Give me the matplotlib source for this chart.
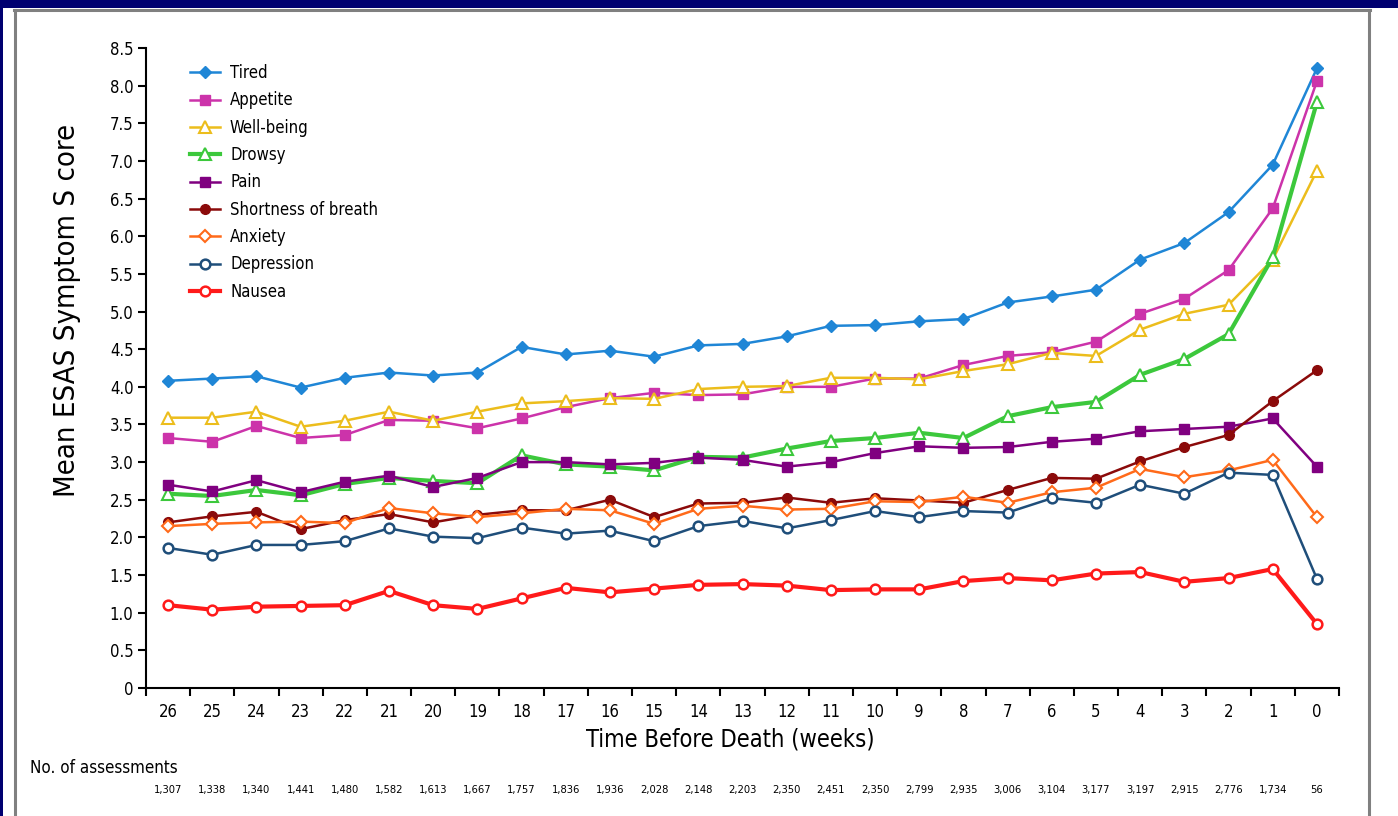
import matplotlib
matplotlib.use("Agg")
import matplotlib.pyplot as plt
from matplotlib.patches import Rectangle
from matplotlib.lines import Line2D
from matplotlib.ticker import FixedLocator, NullFormatter

plt.rcParams['font.family'] = ['DejaVu Sans']
plt.rcParams['font.stretch'] = 'condensed'

weeks = [26, 25, 24, 23, 22, 21, 20, 19, 18, 17, 16, 15, 14, 13,
         12, 11, 10, 9, 8, 7, 6, 5, 4, 3, 2, 1, 0]

assessments = ["1,307", "1,338", "1,340", "1,441", "1,480", "1,582", "1,613",
               "1,667", "1,757", "1,836", "1,936", "2,028", "2,148", "2,203",
               "2,350", "2,451", "2,350", "2,799", "2,935", "3,006", "3,104",
               "3,177", "3,197", "2,915", "2,776", "1,734", "56"]

tired = [4.08, 4.11, 4.14, 3.99, 4.12, 4.19, 4.15, 4.19, 4.53, 4.43, 4.48, 4.40,
         4.55, 4.57, 4.67, 4.81, 4.82, 4.87, 4.90, 5.12, 5.20, 5.29, 5.69, 5.91,
         6.32, 6.95, 8.23]
appetite = [3.32, 3.27, 3.48, 3.32, 3.36, 3.56, 3.55, 3.45, 3.58, 3.73, 3.85, 3.92,
            3.89, 3.90, 4.00, 4.00, 4.11, 4.11, 4.29, 4.41, 4.46, 4.60, 4.97, 5.17,
            5.55, 6.37, 8.06]
well_being = [3.59, 3.59, 3.67, 3.47, 3.55, 3.67, 3.55, 3.67, 3.78, 3.81, 3.85, 3.84,
              3.97, 4.00, 4.01, 4.12, 4.12, 4.10, 4.21, 4.30, 4.45, 4.41, 4.76, 4.97,
              5.09, 5.69, 6.87]
drowsy = [2.58, 2.55, 2.63, 2.56, 2.71, 2.79, 2.75, 2.72, 3.09, 2.97, 2.94, 2.89,
          3.07, 3.06, 3.18, 3.28, 3.32, 3.39, 3.32, 3.61, 3.73, 3.80, 4.16, 4.37,
          4.70, 5.72, 7.78]
pain = [2.70, 2.61, 2.76, 2.60, 2.74, 2.82, 2.67, 2.79, 3.00, 3.00, 2.97, 2.99,
        3.06, 3.03, 2.94, 3.00, 3.12, 3.21, 3.19, 3.20, 3.27, 3.31, 3.41, 3.44,
        3.47, 3.58, 2.94]
breath = [2.20, 2.28, 2.34, 2.11, 2.23, 2.31, 2.20, 2.30, 2.36, 2.36, 2.50, 2.27,
          2.45, 2.46, 2.53, 2.46, 2.52, 2.49, 2.46, 2.63, 2.79, 2.78, 3.01, 3.20,
          3.36, 3.81, 4.22]
anxiety = [2.15, 2.18, 2.20, 2.21, 2.19, 2.39, 2.32, 2.27, 2.32, 2.38, 2.36, 2.18,
           2.38, 2.42, 2.37, 2.38, 2.48, 2.47, 2.54, 2.46, 2.60, 2.66, 2.91, 2.80,
           2.89, 3.03, 2.27]
depression = [1.86, 1.77, 1.90, 1.90, 1.95, 2.12, 2.01, 1.99, 2.13, 2.05, 2.09, 1.95,
              2.15, 2.22, 2.12, 2.23, 2.35, 2.27, 2.35, 2.33, 2.52, 2.46, 2.70, 2.58,
              2.86, 2.83, 1.45]
nausea = [1.10, 1.04, 1.08, 1.09, 1.10, 1.29, 1.10, 1.05, 1.19, 1.33, 1.27, 1.32,
          1.37, 1.38, 1.36, 1.30, 1.31, 1.31, 1.42, 1.46, 1.43, 1.52, 1.54, 1.41,
          1.46, 1.58, 0.85]

W, H = 1398, 816
fig = plt.figure(figsize=(W / 100, H / 100), dpi=100, facecolor='white')


def fx(px):
    return px / W


def fy(py):
    return 1 - py / H


# page background strips and panel frame
navy = '#000070'
fig.patches.append(Rectangle((0, fy(8)), 1, 8 / H, transform=fig.transFigure,
                             facecolor=navy, edgecolor='none', zorder=0))
fig.patches.append(Rectangle((0, 0), fx(3), 1, transform=fig.transFigure,
                             facecolor=navy, edgecolor='none', zorder=0))
fig.lines.append(Line2D([fx(15), fx(15)], [0, fy(10)], transform=fig.transFigure,
                        color='#808080', lw=2.2))
fig.lines.append(Line2D([fx(1369), fx(1369)], [0, fy(10)], transform=fig.transFigure,
                        color='#808080', lw=2.2))
fig.lines.append(Line2D([fx(14), fx(1370)], [fy(10), fy(10)], transform=fig.transFigure,
                        color='#808080', lw=2.2))

ax_left, ax_right, ax_top, ax_bottom = 146, 1339, 48, 688
ax = fig.add_axes([fx(ax_left), fy(ax_bottom), fx(ax_right) - fx(ax_left),
                   fy(ax_top) - fy(ax_bottom)])
x = list(range(len(weeks)))

series = [
    ("Tired", tired, dict(color='#1f86d6', marker='D', ms=6, mfc='#1f86d6', lw=1.8)),
    ("Appetite", appetite, dict(color='#cc33aa', marker='s', ms=7, mfc='#cc33aa', lw=1.8)),
    ("Well-being", well_being, dict(color='#ecbd1c', marker='^', ms=8, mfc='white', mew=1.5, lw=1.8)),
    ("Drowsy", drowsy, dict(color='#3cc83c', marker='^', ms=8, mfc='white', mew=1.5, lw=3.0)),
    ("Pain", pain, dict(color='#800080', marker='s', ms=7.5, mfc='#800080', lw=1.8)),
    ("Shortness of breath", breath, dict(color='#8b0a0a', marker='o', ms=7, mfc='#8b0a0a', lw=1.8)),
    ("Anxiety", anxiety, dict(color='#ff6a1a', marker='D', ms=6, mfc='white', mew=1.5, lw=1.8)),
    ("Depression", depression, dict(color='#1f4e7a', marker='o', ms=7, mfc='white', mew=1.8, lw=1.8)),
    ("Nausea", nausea, dict(color='#ff1a1a', marker='o', ms=7, mfc='white', mew=1.8, lw=3.0)),
]

for name, vals, style in series:
    ax.plot(x, vals, label=name, **style)

ax.set_xlim(-0.5, len(weeks) - 0.5)
ax.set_ylim(0, 8.5)

ax.set_yticks([i * 0.5 for i in range(18)])
ax.set_yticklabels(["0" if i == 0 else f"{i * 0.5:.1f}" for i in range(18)], fontsize=12)
ax.tick_params(axis='y', direction='out', length=6, width=1.5, pad=3)

ax.xaxis.set_major_locator(FixedLocator(x))
ax.set_xticklabels([str(w) for w in weeks], fontsize=12)
ax.tick_params(axis='x', which='major', length=0, pad=11)
ax.xaxis.set_minor_locator(FixedLocator([i - 0.5 for i in range(len(weeks) + 1)]))
ax.xaxis.set_minor_formatter(NullFormatter())
ax.tick_params(axis='x', which='minor', direction='out', length=6, width=1.5)

for side in ('top', 'right'):
    ax.spines[side].set_visible(False)
for side in ('left', 'bottom'):
    ax.spines[side].set_linewidth(1.5)

ax_w = ax_right - ax_left
ax_h = ax_bottom - ax_top
ax.set_ylabel("Mean ESAS Symptom S core", fontsize=21)
ax.yaxis.set_label_coords((67 - ax_left) / ax_w, (ax_bottom - 310) / ax_h)
ax.yaxis.label.set_verticalalignment('center')
ax.set_xlabel("Time Before Death (weeks)", fontsize=17)
ax.xaxis.set_label_coords((730 - ax_left) / ax_w, -(740 - ax_bottom) / ax_h)
ax.xaxis.label.set_verticalalignment('center')

leg = ax.legend(loc='upper left', bbox_to_anchor=((190 - ax_left) / ax_w, 0.975),
                frameon=False, fontsize=12, handlelength=1.8, labelspacing=0.56,
                borderaxespad=0, borderpad=0, handletextpad=0.6)

fig.text(fx(30), fy(768), "No. of assessments", fontsize=12.2, va='center', ha='left')
for xi, n in zip(x, assessments):
    xf = ax.transData.transform((xi, 0))[0]
    fig.text(xf / W, fy(790), n, fontsize=8, va='center', ha='center')

fig.savefig("out.png", dpi=100, facecolor='white')
